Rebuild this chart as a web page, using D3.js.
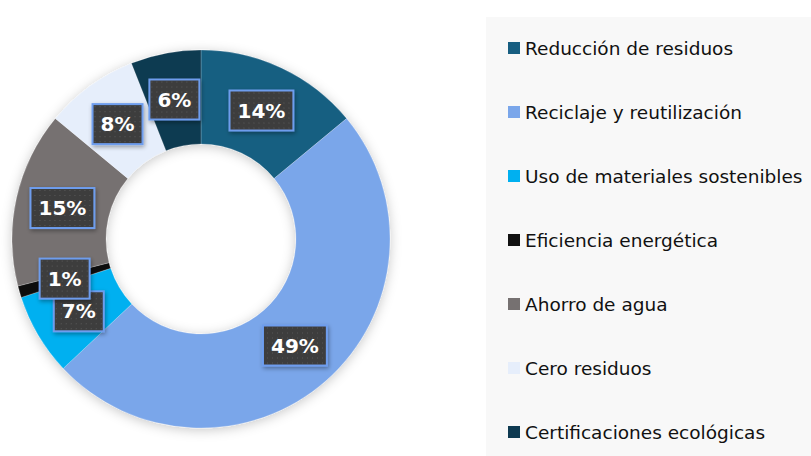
<!DOCTYPE html>
<html>
<head>
<meta charset="utf-8">
<script src="https://cdn.jsdelivr.net/npm/d3@7"></script>
<style>
  body { margin: 0; background: #fff; }
</style>
</head>
<body>
<div id="chart"></div>
<script>
// Data
const categories = [
    'Reducción de residuos',
    'Reciclaje y reutilización',
    'Uso de materiales sostenibles',
    'Eficiencia energética',
    'Ahorro de agua',
    'Cero residuos',
    'Certificaciones ecológicas'
];
const shares = [14, 49, 7, 1, 15, 8, 6];
const colors = ['#175e81', '#7aa6ea', '#00b0f0', '#111111', '#767171', '#e6eefb', '#0e3a51'];

const width = 811;
const height = 456;

const svg = d3.select('#chart')
    .append('svg')
    .attr('width', width)
    .attr('height', height);

const defs = svg.append('defs');

// Soft glow under the ring
const glow = defs.append('filter')
    .attr('id', 'glow')
    .attr('x', '-20%').attr('y', '-20%')
    .attr('width', '140%').attr('height', '140%');
glow.append('feDropShadow')
    .attr('dx', 0).attr('dy', 2)
    .attr('stdDeviation', 6)
    .attr('flood-color', '#000')
    .attr('flood-opacity', 0.22);

// Shadow for the labels
const boxShadow = defs.append('filter')
    .attr('id', 'boxShadow')
    .attr('x', '-30%').attr('y', '-30%')
    .attr('width', '160%').attr('height', '160%');
boxShadow.append('feDropShadow')
    .attr('dx', 1).attr('dy', 2)
    .attr('stdDeviation', 2)
    .attr('flood-color', '#000')
    .attr('flood-opacity', 0.35);

// Dotted fill for the labels
const dots = defs.append('pattern')
    .attr('id', 'dots')
    .attr('patternUnits', 'userSpaceOnUse')
    .attr('width', 5).attr('height', 5);
dots.append('rect').attr('width', 5).attr('height', 5).attr('fill', '#3d3d3d');
dots.append('rect').attr('x', 2).attr('y', 2).attr('width', 1).attr('height', 1).attr('fill', '#595959');

// Donut
const cx = 201, cy = 239;
const outerR = 189, innerR = 95;

const pie = d3.pie().sort(null).value(d => d);
const arcs = pie(shares);

const arc = d3.arc().innerRadius(innerR).outerRadius(outerR);
const labelArc = d3.arc().innerRadius((innerR + outerR) / 2).outerRadius((innerR + outerR) / 2);

const g = svg.append('g').attr('transform', `translate(${cx},${cy})`);

g.append('g')
    .attr('filter', 'url(#glow)')
    .selectAll('path')
    .data(arcs)
    .enter()
    .append('path')
    .attr('d', arc)
    .attr('fill', (d, i) => colors[i])
    .attr('stroke', 'rgba(255,255,255,0.25)')
    .attr('stroke-width', 0.8);

// Data labels
const labels = g.append('g')
    .selectAll('g')
    .data(arcs)
    .enter()
    .append('g')
    .attr('transform', d => {
        const [x, y] = labelArc.centroid(d);
        return `translate(${x},${y})`;
    });

labels.each(function(d) {
    const sel = d3.select(this);
    const txt = sel.append('text')
        .attr('text-anchor', 'middle')
        .attr('dy', '0.36em')
        .style('font-family', '"DejaVu Sans", Verdana, sans-serif')
        .style('font-weight', 'bold')
        .style('font-size', '20px')
        .attr('fill', '#fff')
        .text(d.data + '%');
    const w = txt.node().getComputedTextLength() + 16;
    const h = 40;
    sel.insert('rect', 'text')
        .attr('x', -w / 2)
        .attr('y', -h / 2)
        .attr('width', w)
        .attr('height', h)
        .attr('fill', 'url(#dots)')
        .attr('stroke', '#6e9ded')
        .attr('stroke-width', 2)
        .attr('filter', 'url(#boxShadow)');
});

// Legend
svg.append('rect')
    .attr('x', 486)
    .attr('y', 17)
    .attr('width', width - 486)
    .attr('height', height - 17)
    .attr('fill', '#f8f8f8');

const legendY = d3.scalePoint()
    .domain(categories)
    .range([48, 432]);

const legend = svg.append('g')
    .selectAll('g')
    .data(categories)
    .enter()
    .append('g')
    .attr('transform', d => `translate(508,${legendY(d)})`);

legend.append('rect')
    .attr('x', 0)
    .attr('y', -6)
    .attr('width', 12)
    .attr('height', 12)
    .attr('fill', (d, i) => colors[i]);

legend.append('text')
    .attr('x', 17)
    .attr('dy', '0.36em')
    .style('font-family', '"DejaVu Sans", Verdana, sans-serif')
    .style('font-size', '18.5px')
    .attr('fill', '#111')
    .text(d => d);
</script>
</body>
</html>
